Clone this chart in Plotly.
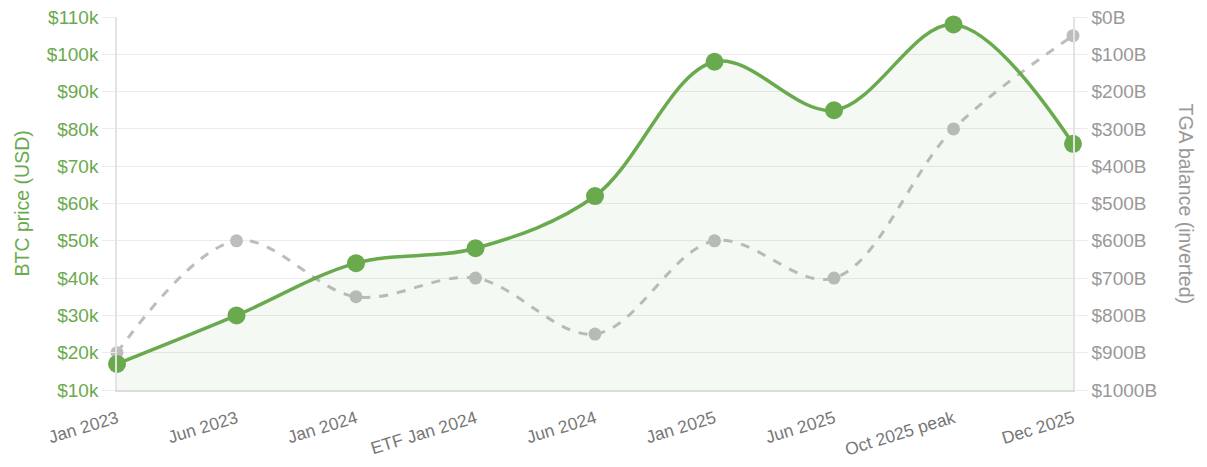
import plotly.graph_objects as go

categories = ["Jan 2023", "Jun 2023", "Jan 2024", "ETF Jan 2024", "Jun 2024",
              "Jan 2025", "Jun 2025", "Oct 2025 peak", "Dec 2025"]
btc_price = [17000, 30000, 44000, 48000, 62000, 98000, 85000, 108000, 76000]
tga_balance = [900, 600, 750, 700, 850, 600, 700, 300, 50]

btc_tickvals = [10000, 20000, 30000, 40000, 50000, 60000, 70000, 80000, 90000, 100000, 110000]
btc_ticktext = ["$10k", "$20k", "$30k", "$40k", "$50k", "$60k", "$70k", "$80k", "$90k", "$100k", "$110k"]
tga_tickvals = [0, 100, 200, 300, 400, 500, 600, 700, 800, 900, 1000]
tga_ticktext = ["$0B", "$100B", "$200B", "$300B", "$400B", "$500B", "$600B", "$700B", "$800B", "$900B", "$1000B"]

GREEN = "#6aaa4e"
GREY = "#bdbdbd"
GRID = "#ebebeb"
FONT = "Liberation Sans, Arial, Helvetica, sans-serif"

fig = go.Figure()

# TGA on main axis (right side) so it is drawn beneath the BTC overlay
fig.add_trace(go.Scatter(
    x=categories, y=tga_balance, yaxis="y", name="TGA balance",
    mode="lines+markers",
    line=dict(color=GREY, width=3, dash="dash", shape="spline", smoothing=1),
    marker=dict(color=GREY, size=13),
    cliponaxis=False,
))

fig.add_trace(go.Scatter(
    x=categories, y=btc_price, yaxis="y2", name="BTC price",
    mode="lines+markers",
    line=dict(color=GREEN, width=3.5, shape="spline", smoothing=1),
    marker=dict(color=GREEN, size=18),
    fill="tozeroy", fillcolor="rgba(106,170,78,0.07)",
    cliponaxis=False,
))

fig.update_layout(
    width=1207, height=467,
    margin=dict(l=109, r=142, t=9, b=85),
    paper_bgcolor="white", plot_bgcolor="white",
    showlegend=False,
    font=dict(family=FONT, size=19),
    xaxis=dict(
        type="category", range=[0, 8], automargin=False,
        showgrid=False, zeroline=False,
        showline=True, linecolor="#dcdcdc", linewidth=1.5,
        ticks="outside", ticklen=10, tickcolor="rgba(0,0,0,0)", tickangle=-17,
        ticklabeloverflow="allow",
        tickfont=dict(color="#777777", size=17.5),
    ),
    yaxis=dict(
        side="right", range=[1000, 0], automargin=False,
        tickvals=tga_tickvals, ticktext=tga_ticktext,
        showgrid=True, gridcolor=GRID, gridwidth=1,
        zeroline=False,
        showline=True, linecolor="#e3e3e3", linewidth=1.5,
        ticks="outside", ticklen=13, tickcolor=GRID, tickwidth=1,
        ticklabeloverflow="allow",
        tickfont=dict(color="#999999", size=19),
    ),
    yaxis2=dict(
        overlaying="y", side="left", range=[10000, 110000], automargin=False,
        tickvals=btc_tickvals, ticktext=btc_ticktext,
        showgrid=False, zeroline=False,
        showline=True, linecolor="#e3e3e3", linewidth=1.5,
        ticks="outside", ticklen=13, tickcolor=GRID, tickwidth=1,
        ticklabeloverflow="allow",
        tickfont=dict(color=GREEN, size=19),
    ),
    annotations=[
        dict(text="BTC price (USD)", xref="paper", yref="paper", x=0, y=0.5,
             xshift=-109, textangle=-90, showarrow=False,
             font=dict(color=GREEN, size=19.5, family=FONT)),
        dict(text="TGA balance (inverted)", xref="paper", yref="paper", x=1, y=0.5,
             xshift=126, textangle=90, showarrow=False,
             font=dict(color="#999999", size=19.5, family=FONT)),
    ],
)

fig.write_html("out.html")
